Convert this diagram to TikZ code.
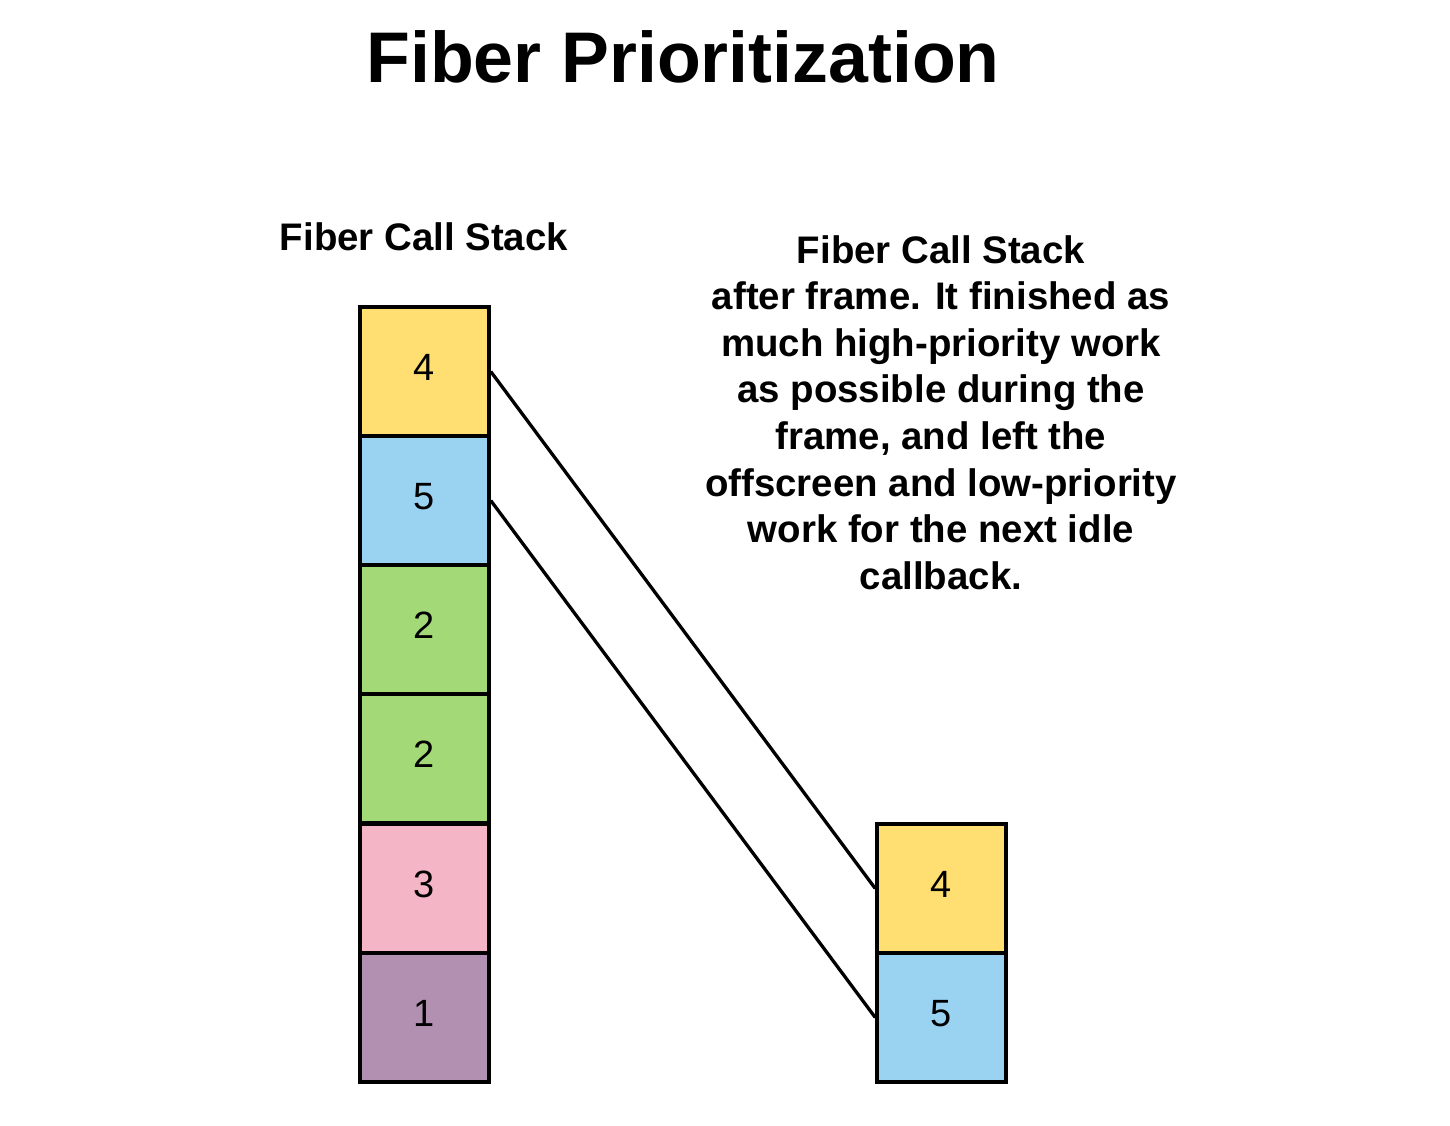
\documentclass[tikz,border=0pt]{standalone}
\usepackage{fontspec}
\setmainfont{Liberation Sans}
\definecolor{cyellow}{HTML}{FFDF71}
\definecolor{cblue}{HTML}{9AD2F2}
\definecolor{cgreen}{HTML}{A3D977}
\definecolor{cpink}{HTML}{F4B6C7}
\definecolor{cpurple}{HTML}{B290B2}
\begin{document}
\begin{tikzpicture}[x=1pt,y=-1pt,
  cell/.style={draw=black,line width=3.5pt,minimum width=129pt,minimum height=129pt,inner sep=0pt,
    font=\fontsize{38}{46}\selectfont},
  num/.style={inner sep=0pt,font=\fontsize{38}{46}\selectfont},
  link/.style={line width=3.3pt},
  heading/.style={font=\bfseries\fontsize{38.4}{46.6}\selectfont,align=center,inner sep=0pt}]
\useasboundingbox (0,0) rectangle (1450,1126);
\node[font=\bfseries\fontsize{71.7}{80}\selectfont,inner sep=0pt] (title) at (683,57) {Fiber Prioritization};
\node[heading] (lhead) at (424,237) {Fiber Call Stack};
\node[heading,anchor=north] (rhead) at (941,235) {Fiber Call Stack\\after frame. It finished as\\much high-priority work\\as possible during the\\frame, and left the\\offscreen and low-priority\\work for the next idle\\callback.};
% left stack
\node[cell,fill=cyellow] (a4) at (424.5,371.5) {};
\node[cell,fill=cblue] (a5) at (424.5,500.5) {};
\node[cell,fill=cgreen] (a2a) at (424.5,629.5) {};
\node[cell,fill=cgreen] (a2b) at (424.5,758.5) {};
\node[cell,fill=cpink] (a3) at (424.5,888.5) {};
\node[cell,fill=cpurple] (a1) at (424.5,1017.5) {};
% right stack
\node[cell,fill=cyellow] (b4) at (941.5,888.5) {};
\node[cell,fill=cblue] (b5) at (941.5,1017.5) {};
% numbers
\node[num] (n4) at ([yshift=4pt]a4.center) {4};
\node[num] (n5) at ([yshift=4pt]a5.center) {5};
\node[num] (n2a) at ([yshift=4pt]a2a.center) {2};
\node[num] (n2b) at ([yshift=4pt]a2b.center) {2};
\node[num] (n3) at ([yshift=4pt]a3.center) {3};
\node[num] (n1) at ([yshift=4pt]a1.center) {1};
\node[num] (m4) at ([yshift=4pt]b4.center) {4};
\node[num] (m5) at ([yshift=4pt]b5.center) {5};
\draw[link] (a4.east) -- (b4.west);
\draw[link] (a5.east) -- (b5.west);
\end{tikzpicture}
\end{document}
